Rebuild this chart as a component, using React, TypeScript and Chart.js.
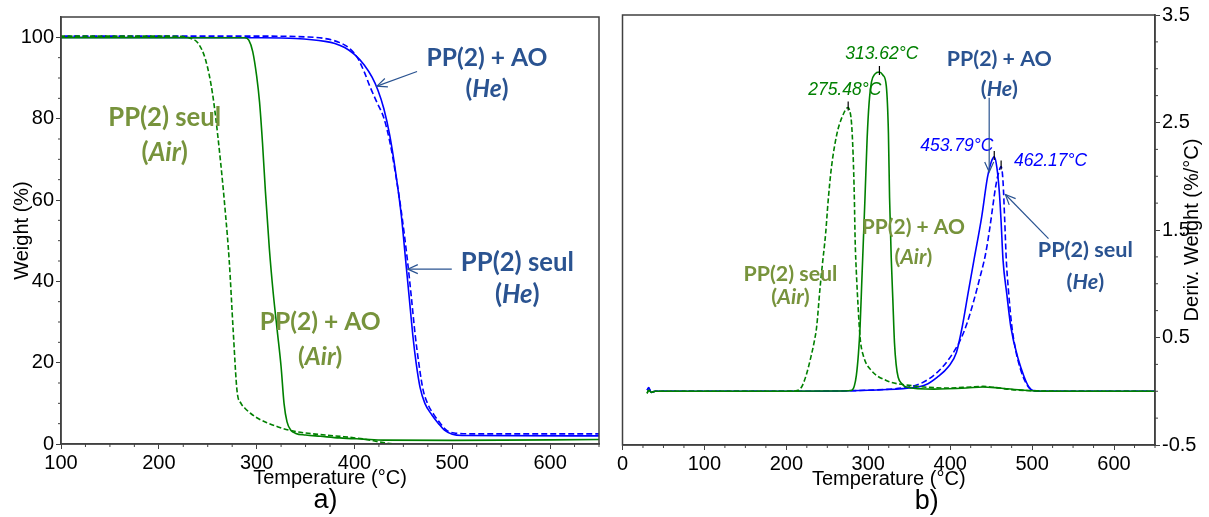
import React, { useEffect, useRef } from "react";
import { Chart, registerables } from "chart.js";

Chart.register(...registerables);

// ---------------- Panel a) : TGA (Weight %) ----------------
const tgaSeulAirT = [30, 100, 200, 225, 232, 240, 248, 255, 262, 268, 272, 276, 280, 284, 288, 294, 302, 311, 322, 335, 350, 370, 389, 410, 428, 440];
const tgaSeulAirW = [100.3, 100.3, 100.3, 100.2, 99.8, 98.6, 94.3, 86, 72, 57, 45, 28, 13, 10, 8.8, 7.5, 6.2, 5.2, 4.2, 3.3, 2.7, 2.2, 1.8, 1.2, 0.4, 0];

const tgaAoAirT = [30, 100, 200, 288, 292, 296, 300, 303, 306, 309, 313, 317, 321, 325, 328, 331, 335, 340, 350, 365, 385, 409, 430, 500, 650];
const tgaAoAirW = [99.9, 99.9, 99.9, 99.9, 99.3, 96.5, 90.5, 84, 74, 62, 48, 37, 28, 19, 10, 5.5, 3.4, 2.6, 2.2, 1.9, 1.5, 1.2, 0.95, 0.9, 1.1];

const tgaAoHeT = [30, 100, 300, 340, 370, 380, 390, 400, 410, 418, 424, 430, 436, 442, 448, 452, 456, 460, 463, 467, 472, 479, 486, 492, 500, 510, 650];
const tgaAoHeW = [100, 100, 99.9, 99.7, 99.0, 98.5, 97.5, 95.8, 93.2, 90.2, 87, 82.5, 76, 67, 56, 46, 36, 26, 20, 14, 10, 7.2, 5, 3.4, 2.4, 2.1, 2.0];

const tgaSeulHeT = [30, 100, 300, 350, 370, 385, 395, 403, 410, 416, 423, 430, 436, 442, 448, 454, 458, 462, 466, 470, 475, 481, 488, 494, 502, 520, 650];
const tgaSeulHeW = [100.3, 100.3, 100.3, 100.1, 99.7, 98.7, 97.3, 95, 91.5, 87.8, 84, 80.2, 74.5, 66.5, 57, 45.5, 36.5, 27, 19.5, 13.5, 9.8, 7.3, 5, 3.4, 2.7, 2.5, 2.5];

const tgaXTicks = [100, 200, 300, 400, 500, 600];
const tgaYTicks = [0, 20, 40, 60, 80, 100];

// ---------------- Panel b) : DTG (Deriv. Weight %/°C) ----------------
const dtgSeulAirT = [30, 32, 35, 40, 100, 150, 200, 212, 216, 220, 225, 230, 234, 237, 241, 244, 248, 251, 255, 261.6, 268, 275.5, 277, 279.5, 281.5, 283, 284, 285.5, 287.5, 290, 294, 303, 322, 350, 398, 425, 440, 455, 475, 500, 550, 650];
const dtgSeulAirY = [-0.02, 0.01, -0.01, 0, 0, 0, 0, 0.005, 0.015, 0.06, 0.17, 0.32, 0.46, 0.6, 0.95, 1.18, 1.47, 1.77, 2.08, 2.39, 2.55, 2.64, 2.62, 2.5, 2.2, 1.8, 1.4, 1.1, 0.8, 0.5, 0.33, 0.2, 0.1, 0.055, 0.03, 0.04, 0.045, 0.035, 0.015, 0.005, 0, 0];

const dtgAoAirT = [30, 32, 35, 40, 100, 200, 270, 280, 283, 285.5, 288, 290, 292, 294, 296, 298.6, 301, 304, 308, 313.6, 318, 322, 324.6, 326, 328, 330, 332, 334, 336.5, 341, 346, 380, 420, 440, 460, 490, 520, 650];
const dtgAoAirY = [-0.02, 0.01, -0.01, 0, 0, 0, 0.003, 0.01, 0.05, 0.15, 0.35, 0.6, 1.0, 1.4, 1.8, 2.35, 2.68, 2.88, 2.95, 2.97, 2.94, 2.84, 2.4, 1.8, 1.25, 0.85, 0.45, 0.25, 0.13, 0.07, 0.04, 0.02, 0.03, 0.04, 0.03, 0.01, 0, 0];

const dtgAoHeT = [30, 32, 35, 40, 100, 200, 300, 350, 370, 384, 398, 407.6, 414.7, 421.8, 429, 438.4, 445.5, 450, 453.8, 457, 460, 462, 464.5, 469, 474, 483.4, 490, 496, 502, 520, 650];
const dtgAoHeY = [0.01, 0.035, -0.01, 0, 0, 0, 0.01, 0.03, 0.06, 0.13, 0.23, 0.36, 0.6, 0.91, 1.22, 1.62, 1.99, 2.13, 2.18, 2.08, 1.85, 1.6, 1.22, 0.91, 0.6, 0.29, 0.14, 0.04, 0.005, 0, 0];

const dtgSeulHeT = [30, 32, 35, 40, 100, 200, 300, 340, 360, 375, 390, 403, 412, 420, 428, 436, 443, 448, 452, 455, 458, 462.2, 464.5, 466.5, 468.5, 471, 475, 480, 486, 493, 500, 520, 650];
const dtgSeulHeY = [0.01, 0.03, -0.01, 0, 0, 0, 0.01, 0.03, 0.06, 0.12, 0.22, 0.35, 0.47, 0.62, 0.82, 1.05, 1.27, 1.5, 1.72, 1.88, 2.0, 2.09, 1.95, 1.6, 1.22, 0.95, 0.62, 0.38, 0.2, 0.07, 0.01, 0, 0];

const dtgXTicks = [0, 100, 200, 300, 400, 500, 600];
const dtgYTicks = [-0.5, 0.5, 1.5, 2.5, 3.5];

// peak temperatures (°C) and heights (%/°C)
const peakT = [275.48, 313.62, 453.79, 462.17];
const peakY = [2.64, 2.97, 2.18, 2.09];

// ---------------- styles ----------------
const GREEN = "#008000";
const BLUE = "#0000ff";
const OLIVE = "#77933c";
const NAVY = "#2a5391";
const AXIS = "#404040";
const SANS = "'Liberation Sans', Arial, sans-serif";
const NOTE_FONT = "Lato, 'Open Sans', sans-serif";

type Note = { lines: string[]; x: number; y: number[]; color: string; w: number };
type Arrow = { from: [number, number]; to: [number, number]; color: string };
type PeakLabel = { x: number; y: number; color: string };

const leftNotes: Note[] = [
  { lines: ["PP(2) seul", "(*Air*)"], x: 206, y: [80.3, 71.7], color: OLIVE, w: 113 },
  { lines: ["PP(2) + AO", "(*He*)"], x: 535.5, y: [94.8, 87.4], color: NAVY, w: 121 },
  { lines: ["PP(2) seul", "(*He*)"], x: 566.5, y: [44.5, 36.6], color: NAVY, w: 113 },
  { lines: ["PP(2) + AO", "(*Air*)"], x: 365, y: [30, 21.4], color: OLIVE, w: 121 },
];
const leftArrows: Arrow[] = [
  { from: [464, 91.6], to: [423, 88], color: NAVY },
  { from: [499.5, 43], to: [454.5, 43], color: NAVY },
];

const rightNotes: Note[] = [
  { lines: ["PP(2) + AO", "(*He*)"], x: 460, y: [3.09, 2.815], color: NAVY, w: 105 },
  { lines: ["PP(2) seul", "(*He*)"], x: 565, y: [1.31, 1.013], color: NAVY, w: 95 },
  { lines: ["PP(2) + AO", "(*Air*)"], x: 355, y: [1.527, 1.246], color: OLIVE, w: 103 },
  { lines: ["PP(2) seul", "(*Air*)"], x: 205, y: [1.094, 0.877], color: OLIVE, w: 94 },
];
const rightArrows: Arrow[] = [
  { from: [447.6, 2.73], to: [447.6, 2.04], color: NAVY },
  { from: [520, 1.42], to: [467.4, 1.83], color: NAVY },
];
const peakLabels: PeakLabel[] = [
  { x: 271.3, y: 2.8, color: GREEN },
  { x: 316.5, y: 3.14, color: GREEN },
  { x: 408, y: 2.276, color: BLUE },
  { x: 522.6, y: 2.137, color: BLUE },
];

function minorTicks(min: number, max: number, step: number, majors: number[]): number[] {
  const out: number[] = [];
  const n = Math.round((max - min) / step);
  for (let k = 0; k <= n; k++) {
    const v = +(min + k * step).toFixed(4);
    if (!majors.some((m) => Math.abs(m - v) < 1e-6)) out.push(v);
  }
  return out;
}

function drawRich(ctx: CanvasRenderingContext2D, s: string, cx: number, cy: number, size: number, color: string) {
  const segs = s.split("*").map((t, k) => ({ t, it: k % 2 === 1 })).filter((p) => p.t);
  const fontFor = (it: boolean) => `${it ? "italic " : ""}bold ${size}px ${NOTE_FONT}`;
  let total = 0;
  const widths = segs.map((sg) => {
    ctx.font = fontFor(sg.it);
    const w = ctx.measureText(sg.t).width;
    total += w;
    return w;
  });
  let x = cx - total / 2;
  ctx.fillStyle = color;
  ctx.textBaseline = "middle";
  ctx.textAlign = "left";
  segs.forEach((sg, k) => {
    ctx.font = fontFor(sg.it);
    ctx.fillText(sg.t, x, cy);
    x += widths[k];
  });
}

function drawArrow(ctx: CanvasRenderingContext2D, x1: number, y1: number, x2: number, y2: number, color: string) {
  ctx.strokeStyle = color;
  ctx.lineWidth = 1.2;
  ctx.setLineDash([]);
  ctx.beginPath();
  ctx.moveTo(x1, y1);
  ctx.lineTo(x2, y2);
  ctx.stroke();
  const ang = Math.atan2(y2 - y1, x2 - x1);
  const L = 11;
  const sp = 0.42;
  ctx.beginPath();
  ctx.moveTo(x2 - L * Math.cos(ang - sp), y2 - L * Math.sin(ang - sp));
  ctx.lineTo(x2, y2);
  ctx.lineTo(x2 - L * Math.cos(ang + sp), y2 - L * Math.sin(ang + sp));
  ctx.stroke();
}

type DecorOpts = {
  xMinor: number[];
  yMinor: number[];
  ySide: "left" | "right";
  xTitle: string;
  yTitle: string;
  yTitleDx: number;
  sub: string;
  subDx: number;
  notes: Note[];
  arrows: Arrow[];
  peaks: boolean;
};

function decor(o: DecorOpts) {
  return {
    id: "decor",
    afterDraw(chart: any) {
      const { ctx, chartArea: a } = chart;
      const xs = chart.scales.x;
      const ys = chart.scales.y;
      ctx.save();
      // frame
      ctx.strokeStyle = AXIS;
      ctx.lineWidth = 1.5;
      ctx.setLineDash([]);
      ctx.strokeRect(a.left, a.top, a.right - a.left, a.bottom - a.top);
      // minor ticks
      ctx.lineWidth = 1;
      ctx.beginPath();
      o.xMinor.forEach((v) => {
        const px = xs.getPixelForValue(v);
        ctx.moveTo(px, a.bottom);
        ctx.lineTo(px, a.bottom + 3);
      });
      o.yMinor.forEach((v) => {
        const py = ys.getPixelForValue(v);
        if (o.ySide === "left") {
          ctx.moveTo(a.left, py);
          ctx.lineTo(a.left - 3, py);
        } else {
          ctx.moveTo(a.right, py);
          ctx.lineTo(a.right + 3, py);
        }
      });
      ctx.stroke();

      // axis titles
      const cx = (a.left + a.right) / 2;
      const cy = (a.top + a.bottom) / 2;
      ctx.fillStyle = "#000";
      ctx.font = `20px ${SANS}`;
      ctx.textAlign = "center";
      ctx.textBaseline = "middle";
      ctx.fillText(o.xTitle, cx, a.bottom + 34);
      const tx = o.ySide === "left" ? a.left + o.yTitleDx : a.right + o.yTitleDx;
      ctx.save();
      ctx.translate(tx, cy);
      ctx.rotate(-Math.PI / 2);
      ctx.fillText(o.yTitle, 0, 0);
      ctx.restore();
      ctx.font = `27px ${SANS}`;
      ctx.fillText(o.sub, cx + o.subDx, a.bottom + 57);

      // clip annotations to the plot area
      ctx.save();
      ctx.beginPath();
      ctx.rect(a.left, a.top, a.right - a.left, a.bottom - a.top);
      ctx.clip();

      // peak marks and labels
      if (o.peaks) {
        ctx.strokeStyle = "#000";
        ctx.lineWidth = 1.2;
        peakT.forEach((t, i) => {
          const px = xs.getPixelForValue(t);
          const py = ys.getPixelForValue(peakY[i]);
          ctx.beginPath();
          ctx.moveTo(px, py - 6);
          ctx.lineTo(px, py + 3);
          ctx.stroke();
        });
        ctx.font = `italic 17.5px ${SANS}`;
        ctx.textAlign = "center";
        ctx.textBaseline = "middle";
        peakLabels.forEach((p, i) => {
          ctx.fillStyle = p.color;
          ctx.fillText(`${peakT[i].toFixed(2)}°C`, xs.getPixelForValue(p.x), ys.getPixelForValue(p.y));
        });
      }

      // arrows
      o.arrows.forEach((ar) => {
        drawArrow(
          ctx,
          xs.getPixelForValue(ar.from[0]),
          ys.getPixelForValue(ar.from[1]),
          xs.getPixelForValue(ar.to[0]),
          ys.getPixelForValue(ar.to[1]),
          ar.color
        );
      });

      // text notes
      o.notes.forEach((n) => {
        ctx.font = `bold 20px ${NOTE_FONT}`;
        const m = ctx.measureText(n.lines[0].replace(/\*/g, "")).width;
        const size = (20 * n.w) / m;
        n.lines.forEach((ln, k) => {
          drawRich(ctx, ln, xs.getPixelForValue(n.x), ys.getPixelForValue(n.y[k]), size, n.color);
        });
      });
      ctx.restore();
      ctx.restore();
    },
  };
}

function series(T: number[], Y: number[], color: string, dash: number[]) {
  return {
    data: T.map((t, i) => ({ x: t, y: Y[i] })),
    borderColor: color,
    borderWidth: 1.6,
    borderDash: dash,
    pointRadius: 0,
    fill: false,
    cubicInterpolationMode: "monotone" as const,
  };
}

const tickFont = { family: SANS, size: 20 };

export default function App() {
  const leftRef = useRef<HTMLCanvasElement>(null);
  const rightRef = useRef<HTMLCanvasElement>(null);

  useEffect(() => {
    const axisCommon = {
      grid: { drawOnChartArea: false, drawTicks: true, tickLength: 5, color: AXIS, tickColor: AXIS },
      border: { display: true, color: AXIS, width: 1.5 },
    };

    const left = new Chart(leftRef.current as HTMLCanvasElement, {
      type: "line",
      data: {
        datasets: [
          series(tgaAoAirT, tgaAoAirW, GREEN, []),
          series(tgaSeulAirT, tgaSeulAirW, GREEN, [5, 2.5]),
          series(tgaAoHeT, tgaAoHeW, BLUE, []),
          series(tgaSeulHeT, tgaSeulHeW, BLUE, [6, 3]),
        ] as any,
      },
      options: {
        responsive: false,
        animation: false,
        layout: { padding: { left: 0, top: 17, right: 610, bottom: 0 } },
        plugins: { legend: { display: false }, tooltip: { enabled: false } },
        scales: {
          x: {
            type: "linear",
            min: 100,
            max: 650,
            afterBuildTicks: (s: any) => {
              s.ticks = tgaXTicks.map((v) => ({ value: v }));
            },
            afterFit: (s: any) => {
              s.height = 73;
            },
            ticks: { font: tickFont, color: "#000", padding: 2, maxRotation: 0, autoSkip: false, callback: (v: any) => String(v) },
            ...axisCommon,
          },
          y: {
            type: "linear",
            min: 0,
            max: 105,
            afterBuildTicks: (s: any) => {
              s.ticks = tgaYTicks.map((v) => ({ value: v }));
            },
            afterFit: (s: any) => {
              s.width = 61;
            },
            ticks: { font: tickFont, color: "#000", padding: 2, autoSkip: false, callback: (v: any) => String(v) },
            ...axisCommon,
          },
        },
      } as any,
      plugins: [
        decor({
          xMinor: minorTicks(100, 650, 25, tgaXTicks),
          yMinor: minorTicks(0, 100, 5, tgaYTicks),
          ySide: "left",
          xTitle: "Temperature (°C)",
          yTitle: "Weight (%)",
          yTitleDx: -39,
          sub: "a)",
          subDx: -4.5,
          notes: leftNotes,
          arrows: leftArrows,
          peaks: false,
        }),
      ],
    });

    const right = new Chart(rightRef.current as HTMLCanvasElement, {
      type: "line",
      data: {
        datasets: [
          series(dtgAoAirT, dtgAoAirY, GREEN, []),
          series(dtgSeulAirT, dtgSeulAirY, GREEN, [5, 2.5]),
          series(dtgAoHeT, dtgAoHeY, BLUE, []),
          series(dtgSeulHeT, dtgSeulHeY, BLUE, [6, 3]),
        ] as any,
      },
      options: {
        responsive: false,
        animation: false,
        layout: { padding: { left: 622.5, top: 15, right: 0, bottom: 0 } },
        plugins: { legend: { display: false }, tooltip: { enabled: false } },
        scales: {
          x: {
            type: "linear",
            min: 0,
            max: 650,
            afterBuildTicks: (s: any) => {
              s.ticks = dtgXTicks.map((v) => ({ value: v }));
            },
            afterFit: (s: any) => {
              s.height = 72;
            },
            ticks: { font: tickFont, color: "#000", padding: 2, maxRotation: 0, autoSkip: false, callback: (v: any) => String(v) },
            ...axisCommon,
          },
          y: {
            type: "linear",
            position: "right",
            min: -0.5,
            max: 3.5,
            afterBuildTicks: (s: any) => {
              s.ticks = dtgYTicks.map((v) => ({ value: v }));
            },
            afterFit: (s: any) => {
              s.width = 54;
            },
            ticks: { font: tickFont, color: "#000", padding: 2, autoSkip: false, callback: (v: any) => Number(v).toFixed(1) },
            ...axisCommon,
          },
        },
      } as any,
      plugins: [
        decor({
          xMinor: minorTicks(0, 650, 25, dtgXTicks),
          yMinor: minorTicks(-0.5, 3.5, 0.25, dtgYTicks),
          ySide: "right",
          xTitle: "Temperature (°C)",
          yTitle: "Deriv. Weight (%/°C)",
          yTitleDx: 37,
          sub: "b)",
          subDx: 38,
          notes: rightNotes,
          arrows: rightArrows,
          peaks: true,
        }),
      ],
    });

    return () => {
      left.destroy();
      right.destroy();
    };
  }, []);

  const canvasStyle: React.CSSProperties = { position: "absolute", left: 0, top: 0, width: 1209, height: 517 };
  return (
    <div style={{ position: "absolute", left: 0, top: 0, width: 1209, height: 517, background: "#fff", overflow: "hidden" }}>
      <canvas ref={leftRef} width={1209} height={517} style={canvasStyle} />
      <canvas ref={rightRef} width={1209} height={517} style={canvasStyle} />
    </div>
  );
}
